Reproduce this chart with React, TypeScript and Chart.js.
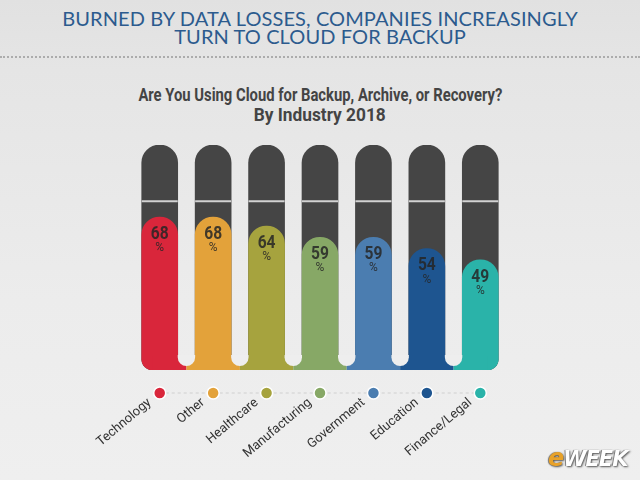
import React, { useEffect, useLayoutEffect, useRef } from "react";
import { Chart, registerables } from "chart.js";

Chart.register(...registerables);

const categories = ["Technology", "Other", "Healthcare", "Manufacturing", "Government", "Education", "Finance/Legal"];
const values = [68, 68, 64, 59, 59, 54, 49];
const fullValues = [100, 100, 100, 100, 100, 100, 100];
const colors = ["#d9263b", "#e3a23a", "#a6a33e", "#87a866", "#4b7db0", "#1e5590", "#2ab3a9"];
const markerValue = 75;

const SANS = "Roboto, 'Liberation Sans', sans-serif";
const PAGE_BG_LOW = "#eeeeee";

const cornerRadius = (ctx: any) => {
  const i = ctx.dataIndex;
  const last = categories.length - 1;
  return {
    topLeft: 18,
    topRight: 18,
    bottomLeft: i === 0 ? 11 : 0,
    bottomRight: i === last ? 11 : 0,
  };
};

const decor = {
  id: "decor",
  afterDatasetsDraw(chart: any) {
    const ctx = chart.ctx;
    const xs = chart.scales.x;
    const ys = chart.scales.y;
    const meta = chart.getDatasetMeta(0);
    const bg = chart.getDatasetMeta(1);
    const bottom = ys.getPixelForValue(0);
    const n = categories.length;
    ctx.save();

    // joined base strip under colored bars
    const baseH = 14;
    meta.data.forEach((bar: any, i: number) => {
      const half = bar.width / 2;
      const left = i === 0 ? bar.x - half : (meta.data[i - 1].x + bar.x) / 2;
      const right = i === n - 1 ? bar.x + half : (meta.data[i + 1].x + bar.x) / 2;
      ctx.fillStyle = colors[i];
      const l = i === 0 ? bar.x - half + 11 : left;
      const r = i === n - 1 ? bar.x + half - 11 : right;
      ctx.fillRect(l, bottom - baseH, r - l, baseH);
    });
    // rounded gaps between bars
    for (let i = 0; i < n - 1; i++) {
      const a = meta.data[i];
      const b = meta.data[i + 1];
      const gl = a.x + a.width / 2;
      const gr = b.x - b.width / 2;
      const w = gr - gl;
      const rad = w / 2;
      const yTop = bottom - baseH - 1;
      const yEnd = bottom - 4;
      ctx.fillStyle = PAGE_BG_LOW;
      ctx.beginPath();
      ctx.moveTo(gl, yTop);
      ctx.lineTo(gr, yTop);
      ctx.lineTo(gr, yEnd - rad);
      ctx.arc(gl + rad, yEnd - rad, rad, 0, Math.PI, false);
      ctx.closePath();
      ctx.fill();
    }

    // marker line across dark bars
    const my = ys.getPixelForValue(markerValue);
    bg.data.forEach((bar: any) => {
      const half = bar.width / 2;
      ctx.strokeStyle = "#d2d2d2";
      ctx.lineWidth = 2;
      ctx.beginPath();
      ctx.moveTo(bar.x - half, my);
      ctx.lineTo(bar.x + half, my);
      ctx.stroke();
    });

    // value labels
    meta.data.forEach((bar: any, i: number) => {
      ctx.fillStyle = "rgba(38,38,38,0.85)";
      ctx.textAlign = "center";
      ctx.textBaseline = "middle";
      ctx.save();
      ctx.translate(bar.x, bar.y + 17);
      ctx.scale(0.82, 1);
      ctx.font = `bold 19px ${SANS}`;
      ctx.fillText(String(values[i]), 0, 0);
      ctx.restore();
      ctx.font = `12px ${SANS}`;
      ctx.fillText("%", bar.x, bar.y + 31);
    });

    // dots row
    const dy = bottom + 23;
    ctx.strokeStyle = "#cfcfcf";
    ctx.lineWidth = 1;
    ctx.setLineDash([3, 3]);
    ctx.beginPath();
    ctx.moveTo(xs.getPixelForValue(0), dy);
    ctx.lineTo(xs.getPixelForValue(n - 1), dy);
    ctx.stroke();
    ctx.setLineDash([]);
    categories.forEach((_, i) => {
      const x = xs.getPixelForValue(i);
      ctx.beginPath();
      ctx.arc(x, dy, 6, 0, Math.PI * 2);
      ctx.fillStyle = colors[i];
      ctx.fill();
      ctx.strokeStyle = "#ffffff";
      ctx.lineWidth = 1.5;
      ctx.stroke();
    });
    ctx.restore();
  },
};

function CondensedLine({ text, target }: { text: string; target: number }) {
  const ref = useRef<HTMLSpanElement | null>(null);
  useLayoutEffect(() => {
    const el = ref.current;
    if (!el) return;
    const w = el.getBoundingClientRect().width;
    if (w > 0) el.style.transform = `scaleX(${target / w})`;
  }, [text, target]);
  return (
    <div style={{ textAlign: "center", width: 640 }}>
      <span ref={ref} style={{ display: "inline-block", whiteSpace: "nowrap", transformOrigin: "center" }}>
        {text}
      </span>
    </div>
  );
}

export default function App() {
  const ref = useRef<HTMLCanvasElement | null>(null);
  useEffect(() => {
    if (!ref.current) return;
    const chart = new Chart(ref.current, {
      type: "bar",
      data: {
        labels: categories,
        datasets: [
          {
            data: values,
            backgroundColor: colors,
            borderRadius: cornerRadius,
            borderSkipped: false,
            order: 0,
          },
          {
            data: fullValues,
            backgroundColor: "#454545",
            borderRadius: cornerRadius,
            borderSkipped: false,
            order: 1,
          },
        ],
      },
      options: {
        responsive: false,
        animation: false,
        layout: { padding: { left: 133, right: 133, top: 145, bottom: 0 } },
        datasets: { bar: { grouped: false, barThickness: 36 } },
        plugins: { legend: { display: false }, tooltip: { enabled: false }, title: { display: false } },
        scales: {
          x: {
            offset: true,
            grid: { display: false },
            border: { display: false },
            ticks: {
              minRotation: 40,
              maxRotation: 40,
              padding: 17,
              labelOffset: -10,
              color: "#333333",
              font: { family: SANS, size: 13 },
            },
            afterFit: (s: any) => {
              s.height = 110;
            },
          },
          y: {
            min: 0,
            max: 100,
            display: false,
          },
        },
      },
      plugins: [decor],
    });
    return () => chart.destroy();
  }, []);

  return (
    <div
      style={{
        position: "fixed",
        left: 0,
        top: 0,
        width: 640,
        height: 480,
        overflow: "hidden",
        background: "linear-gradient(#e1e1e1 0px, #e5e5e5 70px, #ececec 300px, #efefef 480px)",
      }}
    >
      <div
        style={{
          position: "absolute",
          left: 0,
          top: 9,
          width: 640,
          textAlign: "center",
          fontFamily: "Lato, 'Open Sans', sans-serif",
          fontSize: 20,
          lineHeight: "18px",
          color: "#2c5b8e",
          letterSpacing: 0.1,
        }}
      >
        BURNED BY DATA LOSSES, COMPANIES INCREASINGLY
        <br />
        TURN TO CLOUD FOR BACKUP
      </div>
      <div
        style={{
          position: "absolute",
          left: 0,
          top: 56,
          width: 640,
          borderTop: "2px dotted #acacac",
        }}
      />
      <div
        style={{
          position: "absolute",
          left: 0,
          top: 85,
          width: 640,
          fontFamily: SANS,
          fontWeight: "bold",
          fontSize: 18,
          lineHeight: "20px",
          color: "#444444",
        }}
      >
        <CondensedLine text="Are You Using Cloud for Backup, Archive, or Recovery?" target={364} />
        <CondensedLine text="By Industry 2018" target={132} />
      </div>
      <canvas ref={ref} width={640} height={480} style={{ position: "absolute", left: 0, top: 0 }} />
      <div
        style={{
          position: "absolute",
          left: 548,
          top: 444,
          fontFamily: "'DejaVu Sans', sans-serif",
          fontWeight: "bold",
          fontStyle: "italic",
          fontSize: 21,
          letterSpacing: -1,
          color: "#ffffff",
          textShadow: "1px 1px 2px #555, -1px 0 1px #777",
        }}
      >
        <span style={{ color: "#e8a22a", fontSize: 24 }}>e</span>WEEK
      </div>
    </div>
  );
}
